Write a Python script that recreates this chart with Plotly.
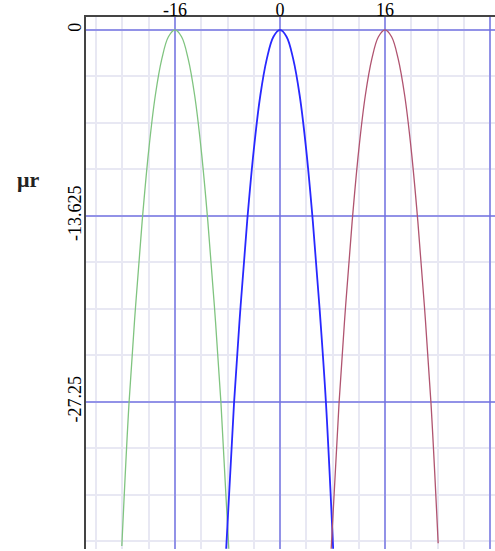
import plotly.graph_objects as go

# Peak positions of the three curves
centers = [-16, 0, 16]

# Offsets from each peak (x units) and the curve value read at that offset
offsets_green = [-8.1, -7.0, -6.0, -5.0, -4.0, -3.0, -2.0, -1.0, 0.0, 1.0, 2.0, 3.0, 4.0, 5.0, 6.0, 7.0, 8.2]
values_green = [-37.8, -27.3, -20.2, -14.0, -8.8, -4.8, -2.1, -0.5, 0.0, -0.5, -2.1, -4.8, -8.8, -14.0, -20.2, -27.3, -38.0]

offsets_blue = [-8.2, -7.0, -6.0, -5.0, -4.0, -3.0, -2.0, -1.0, 0.0, 1.0, 2.0, 3.0, 4.0, 5.0, 6.0, 7.0, 8.1]
values_blue = [-38.0, -27.3, -20.2, -14.0, -8.8, -4.8, -2.1, -0.5, 0.0, -0.5, -2.1, -4.8, -8.8, -14.0, -20.2, -27.3, -38.0]

offsets_red = [-8.2, -7.0, -6.0, -5.0, -4.0, -3.0, -2.0, -1.0, 0.0, 1.0, 2.0, 3.0, 4.0, 5.0, 6.0, 7.0, 8.1]
values_red = [-38.0, -27.3, -20.2, -14.0, -8.8, -4.8, -2.1, -0.5, 0.0, -0.5, -2.1, -4.8, -8.8, -14.0, -20.2, -27.3, -37.6]

x_tick_vals = [-16, 0, 16, 32]
x_tick_text = ["-16", "0", "16", ""]
y_tick_vals = [0, -13.625, -27.25]
y_tick_text = ["0", "-13.625", "-27.25"]

series = [
    (centers[0], offsets_green, values_green, "rgb(128,196,128)", 1.3),
    (centers[1], offsets_blue, values_blue, "rgb(40,40,255)", 1.8),
    (centers[2], offsets_red, values_red, "rgb(176,84,112)", 1.3),
]

fig = go.Figure()
for c, offs, vals, color, w in series:
    fig.add_trace(go.Scatter(
        x=[c + d for d in offs], y=vals, mode="lines",
        line=dict(color=color, width=w, shape="spline", smoothing=1.0),
        showlegend=False, hoverinfo="skip",
    ))

serif = "Liberation Serif"
major_grid = "rgba(110,110,225,0.7)"
minor_grid = "rgb(232,232,243)"

fig.update_layout(
    width=495, height=551,
    margin=dict(l=86, r=0, t=17, b=2),
    paper_bgcolor="white", plot_bgcolor="white",
    font=dict(family=serif, size=18, color="black"),
    xaxis=dict(
        side="top", range=[-29.56, 32.76], automargin=False,
        tickmode="array", tickvals=x_tick_vals, ticktext=x_tick_text,
        ticklabelstandoff=-8,
        showgrid=True, gridcolor=major_grid, gridwidth=2,
        minor=dict(tick0=0, dtick=4, showgrid=True, gridcolor=minor_grid, gridwidth=1.5),
        showline=True, linecolor="#444", linewidth=2,
        zeroline=False, ticks="", fixedrange=True,
    ),
    yaxis=dict(
        range=[-38.02, 0.95], automargin=False,
        tickmode="array", tickvals=y_tick_vals, ticktext=y_tick_text,
        tickangle=-90, ticklabelstandoff=-4,
        showgrid=True, gridcolor=major_grid, gridwidth=2,
        minor=dict(tick0=0, dtick=3.40625, showgrid=True, gridcolor=minor_grid, gridwidth=1.5),
        showline=True, linecolor="#444", linewidth=2,
        zeroline=False, ticks="", fixedrange=True,
    ),
    annotations=[dict(
        text="<b>\u03bcr</b>", xref="paper", yref="paper",
        x=(28 - 86) / 409, y=(549 - 180) / 532,
        showarrow=False, xanchor="center", yanchor="middle",
        font=dict(family=serif, size=22, color="#222"),
    )],
)

fig.write_html("out.html")
